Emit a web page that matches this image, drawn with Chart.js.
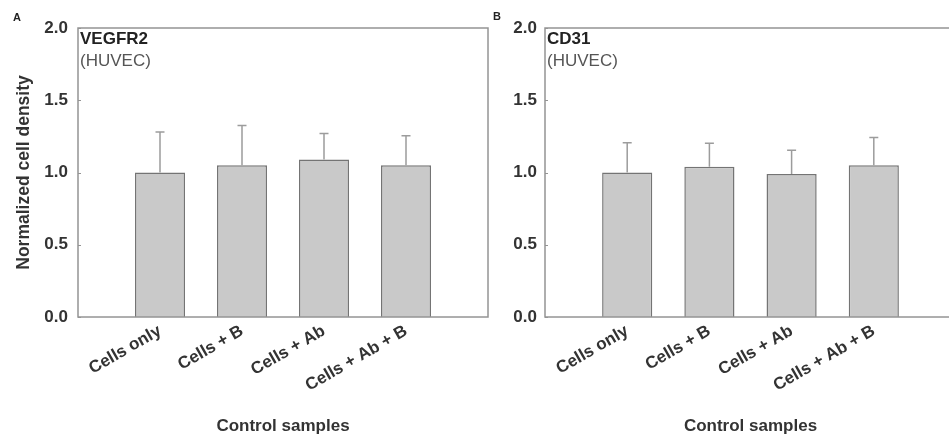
<!DOCTYPE html>
<html><head>
<meta charset="utf-8">
<title>Normalized cell density - control samples</title>
<script src="https://cdn.jsdelivr.net/npm/chart.js@4"></script>
<style>
html, body { margin: 0; padding: 0; background: #fff; }
body { width: 949px; height: 441px; overflow: hidden; position: relative; font-family: Arial, "Liberation Sans", sans-serif; }
canvas { position: absolute; top: 0; }
#chartA { left: 0; }
#chartB { left: 492px; }
.panel { position: absolute; font-weight: bold; font-size: 11px; color: #222; }
.target { position: absolute; font-size: 17px; line-height: 22px; color: #222; }
.target b { display: block; }
.target span { display: block; color: #555; }
</style></head><body>
<canvas id="chartA" width="492" height="441"></canvas>
<canvas id="chartB" width="468" height="441"></canvas>
<div class="panel" style="left:13px; top:11px;">A</div>
<div class="panel" style="left:493px; top:10px;">B</div>
<div class="target" style="left:80px; top:28px;"><b>VEGFR2</b><span>(HUVEC)</span></div>
<div class="target" style="left:547px; top:28px;"><b>CD31</b><span>(HUVEC)</span></div>
<script>
// values (upper error bar = mean + error)
const categories = ['Cells only', 'Cells + B', 'Cells + Ab', 'Cells + Ab + B'];
const vegfr2Means = [1.00, 1.05, 1.09, 1.05];
const vegfr2Errors = [0.28, 0.275, 0.18, 0.205];
const cd31Means = [1.00, 1.04, 0.99, 1.05];
const cd31Errors = [0.206, 0.162, 0.164, 0.192];
const yTicks = [0, 0.5, 1.0, 1.5, 2.0];

const FONT = 'Arial, "Liberation Sans", sans-serif';
const AXIS_GREY = '#949494';

// empty slot on each side so bars sit at 1..4 on a 0..5 axis
const padded = arr => [null, ...arr, null];

// frame round the plot + small inward y ticks
const frame = {
  id: 'frame',
  afterDraw(chart) {
    const { ctx, chartArea: a, scales: { y } } = chart;
    ctx.save();
    ctx.strokeStyle = AXIS_GREY;
    ctx.lineWidth = 1.5;
    ctx.strokeRect(a.left, a.top, a.right - a.left, a.bottom - a.top);
    ctx.lineWidth = 1;
    for (const v of yTicks) {
      const py = Math.round(y.getPixelForValue(v)) + 0.5;
      ctx.beginPath();
      ctx.moveTo(a.left, py);
      ctx.lineTo(a.left + 3, py);
      ctx.stroke();
    }
    ctx.restore();
  }
};

// upper-only error bars with a short cap
const errorBars = {
  id: 'errorBars',
  afterDatasetsDraw(chart, args, opts) {
    const { ctx, scales: { x, y } } = chart;
    ctx.save();
    ctx.strokeStyle = '#9c9c9c';
    ctx.lineWidth = 1.5;
    opts.means.forEach((m, i) => {
      const px = x.getPixelForValue(i + 1);
      const y0 = y.getPixelForValue(m);
      const y1 = y.getPixelForValue(m + opts.errors[i]);
      ctx.beginPath();
      ctx.moveTo(px, y0);
      ctx.lineTo(px, y1);
      ctx.moveTo(px - 4.5, y1);
      ctx.lineTo(px + 4.5, y1);
      ctx.stroke();
    });
    ctx.restore();
  }
};

function makeChart(id, means, errors, yWidth, tickPad, showYTitle) {
  return new Chart(document.getElementById(id), {
    type: 'bar',
    data: {
      labels: padded(categories),
      datasets: [{
        data: padded(means),
        backgroundColor: '#c9c9c9',
        borderColor: '#747474',
        borderWidth: 1.5,
        barPercentage: 1,
        categoryPercentage: 0.61,
      }]
    },
    plugins: [errorBars, frame],
    options: {
      responsive: false,
      animation: false,
      layout: { padding: { top: 28, right: 4, left: 0, bottom: 0 } },
      plugins: {
        legend: { display: false },
        tooltip: { enabled: false },
        errorBars: { means, errors },
      },
      scales: {
        x: {
          offset: false,
          grid: { display: false, drawTicks: false },
          border: { display: false },
          ticks: {
            autoSkip: false, maxRotation: 30, minRotation: 30, padding: 4,
            color: '#333', font: { family: FONT, size: 17, weight: 'bold' }
          },
          title: {
            display: true, text: 'Control samples', color: '#333',
            font: { family: FONT, size: 17, weight: 'bold' }, padding: { bottom: 4 }
          },
          afterFit: s => { s.height = 124; }
        },
        y: {
          min: 0, max: 2,
          afterBuildTicks: s => { s.ticks = yTicks.map(v => ({ value: v })); },
          grid: { display: false, drawTicks: false },
          border: { display: false },
          ticks: {
            padding: tickPad, color: '#333',
            font: { family: FONT, size: 17, weight: 'bold' },
            callback: v => v.toFixed(1)
          },
          title: {
            display: showYTitle, text: 'Normalized cell density', color: '#333',
            font: { family: FONT, size: 17.5, weight: 'bold' }, padding: { top: 14 }
          },
          afterFit: s => { s.width = yWidth; }
        }
      }
    }
  });
}

makeChart('chartA', vegfr2Means, vegfr2Errors, 78, 10, true);
makeChart('chartB', cd31Means, cd31Errors, 53, 8, false);
</script>
</body></html>
